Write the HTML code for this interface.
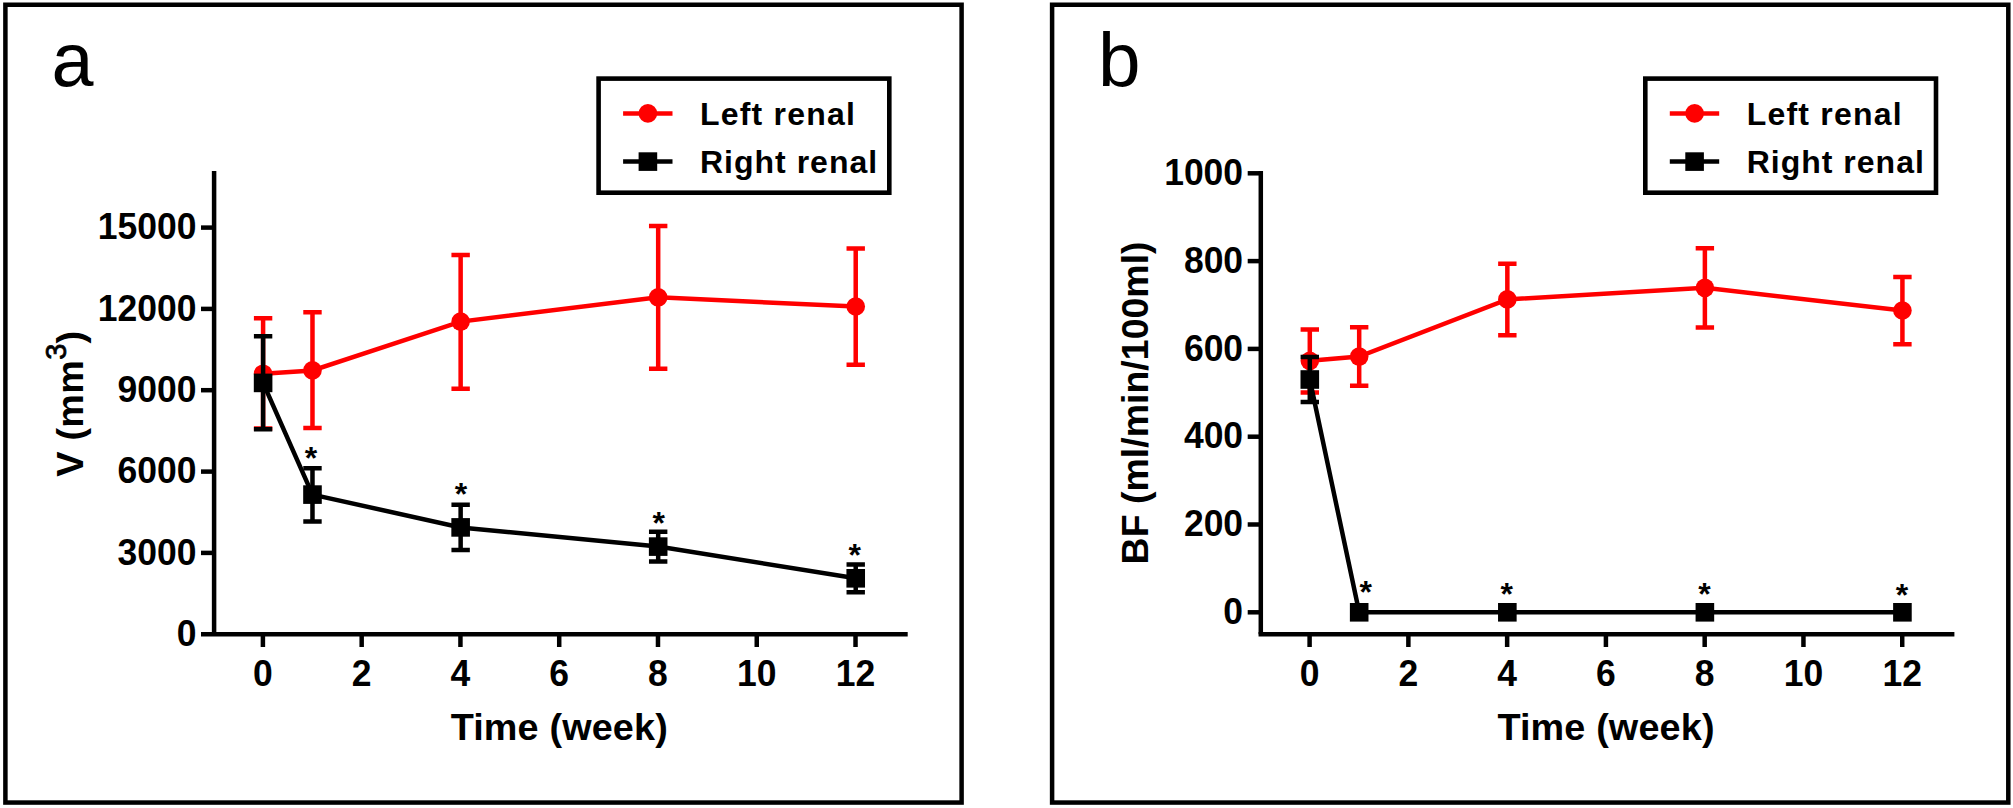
<!DOCTYPE html>
<html lang="en">
<head>
<meta charset="utf-8">
<title>Renal volume and blood flow</title>
<style>
html,body{margin:0;padding:0;background:#fff;}
body{width:2013px;height:808px;overflow:hidden;}
svg{display:block;}
text{font-family:"Liberation Sans", sans-serif;fill:#000;}
.k{stroke:#000;stroke-width:4.5;fill:none;}
.r{stroke:#f00;stroke-width:4.5;fill:none;}
.tl{font-size:35.5px;font-weight:bold;}
.ti{font-size:37.8px;font-weight:bold;}
.lg{font-size:32px;font-weight:bold;letter-spacing:1.2px;}
.pl{font-weight:normal;}
.st{font-size:32px;font-weight:bold;}
</style>
</head>
<body>
<svg width="2013" height="808" viewBox="0 0 2013 808">
<rect x="0" y="0" width="2013" height="808" fill="#fff"/>
<g id="panel-a">
<rect x="5.4" y="4.75" width="956.2" height="797.8" fill="none" stroke="#000" stroke-width="4.5"/>
<path d="M214.1 171V634.3" class="k"/>
<path d="M201 634.3H907.7" class="k"/>
<text transform="translate(196.4 645.8) scale(1 1.04)" class="tl" text-anchor="end">0</text>
<path d="M201 552.9H214.1" class="k"/>
<text transform="translate(196.4 564.5) scale(1 1.04)" class="tl" text-anchor="end">3000</text>
<path d="M201 471.6H214.1" class="k"/>
<text transform="translate(196.4 483.2) scale(1 1.04)" class="tl" text-anchor="end">6000</text>
<path d="M201 390.2H214.1" class="k"/>
<text transform="translate(196.4 401.8) scale(1 1.04)" class="tl" text-anchor="end">9000</text>
<path d="M201 308.9H214.1" class="k"/>
<text transform="translate(196.4 320.5) scale(1 1.04)" class="tl" text-anchor="end">12000</text>
<path d="M201 227.6H214.1" class="k"/>
<text transform="translate(196.4 239.2) scale(1 1.04)" class="tl" text-anchor="end">15000</text>
<path d="M262.9 634.3V647" class="k"/>
<text transform="translate(262.9 686.2) scale(1 1.04)" class="tl" text-anchor="middle">0</text>
<path d="M361.67 634.3V647" class="k"/>
<text transform="translate(361.67 686.2) scale(1 1.04)" class="tl" text-anchor="middle">2</text>
<path d="M460.44 634.3V647" class="k"/>
<text transform="translate(460.44 686.2) scale(1 1.04)" class="tl" text-anchor="middle">4</text>
<path d="M559.21 634.3V647" class="k"/>
<text transform="translate(559.21 686.2) scale(1 1.04)" class="tl" text-anchor="middle">6</text>
<path d="M657.98 634.3V647" class="k"/>
<text transform="translate(657.98 686.2) scale(1 1.04)" class="tl" text-anchor="middle">8</text>
<path d="M756.75 634.3V647" class="k"/>
<text transform="translate(756.75 686.2) scale(1 1.04)" class="tl" text-anchor="middle">10</text>
<path d="M855.52 634.3V647" class="k"/>
<text transform="translate(855.52 686.2) scale(1 1.04)" class="tl" text-anchor="middle">12</text>
<text x="559.3" y="739.5" class="ti" text-anchor="middle" style="letter-spacing:0.14px">Time (week)</text>
<text transform="translate(83 403.7) rotate(-90)" class="ti" text-anchor="middle" style="letter-spacing:0.3px">V (mm<tspan dy="-16.9" style="font-size:29px;font-weight:normal;stroke:#000;stroke-width:0.75px">3</tspan><tspan dy="16.9">)</tspan></text>
<text x="51.6" y="85.6" class="pl" font-size="75.5">a</text>
<path d="M263.1 318.2V428.4M253.9 318.2H272.3M253.9 428.4H272.3" class="r"/>
<path d="M312.48 312.3V428.1M303.28 312.3H321.68M303.28 428.1H321.68" class="r"/>
<path d="M460.64 255.1V388.8M451.44 255.1H469.84M451.44 388.8H469.84" class="r"/>
<path d="M658.18 226V368.7M648.98 226H667.38M648.98 368.7H667.38" class="r"/>
<path d="M855.72 248.6V364.7M846.52 248.6H864.92M846.52 364.7H864.92" class="r"/>
<polyline points="263.1,373.7 312.48,370.4 460.64,321.6 658.18,297.3 855.72,306.5" class="r" fill="none"/>
<circle cx="263.1" cy="373.7" r="9.3" fill="#f00"/>
<circle cx="312.48" cy="370.4" r="9.3" fill="#f00"/>
<circle cx="460.64" cy="321.6" r="9.3" fill="#f00"/>
<circle cx="658.18" cy="297.3" r="9.3" fill="#f00"/>
<circle cx="855.72" cy="306.5" r="9.3" fill="#f00"/>
<path d="M263.1 336.3V429.3M253.9 336.3H272.3M253.9 429.3H272.3" class="k"/>
<path d="M312.48 468.2V521.4M303.28 468.2H321.68M303.28 521.4H321.68" class="k"/>
<path d="M460.64 504.7V549.9M451.44 504.7H469.84M451.44 549.9H469.84" class="k"/>
<path d="M658.18 531.8V561.5M648.98 531.8H667.38M648.98 561.5H667.38" class="k"/>
<path d="M855.72 564.5V592.2M846.52 564.5H864.92M846.52 592.2H864.92" class="k"/>
<polyline points="263.1,382.9 312.48,494.6 460.64,527.4 658.18,546.6 855.72,578.3" class="k" fill="none"/>
<rect x="253.8" y="373.6" width="18.6" height="18.6" fill="#000"/>
<rect x="303.18" y="485.3" width="18.6" height="18.6" fill="#000"/>
<rect x="451.34" y="518.1" width="18.6" height="18.6" fill="#000"/>
<rect x="648.88" y="537.3" width="18.6" height="18.6" fill="#000"/>
<rect x="846.42" y="569" width="18.6" height="18.6" fill="#000"/>
<text x="310.9" y="469" class="st" text-anchor="middle">*</text>
<text x="461" y="505.4" class="st" text-anchor="middle">*</text>
<text x="658.8" y="533.9" class="st" text-anchor="middle">*</text>
<text x="854.75" y="565.6" class="st" text-anchor="middle">*</text>
<rect x="598.6" y="78.6" width="290.7" height="114.1" fill="#fff" stroke="#000" stroke-width="4.6"/>
<path d="M623.1 113.4H672.5" class="r"/><circle cx="647.9" cy="113.4" r="9.3" fill="#f00"/>
<path d="M623.1 161.6H672.5" class="k"/><rect x="638.6" y="152.3" width="18.6" height="18.6" fill="#000"/>
<text x="700" y="124.8" class="lg">Left renal</text>
<text x="700" y="173.0" class="lg" style="letter-spacing:1px">Right renal</text>
</g>
<g id="panel-b">
<rect x="1052.1" y="4.75" width="956.2" height="797.8" fill="none" stroke="#000" stroke-width="4.5"/>
<path d="M1260.8 171V634.3" class="k"/>
<path d="M1258.55 634.3H1954.4" class="k"/>
<path d="M1247.7 612.3H1260.8" class="k"/>
<text transform="translate(1243.1 623.9) scale(1 1.04)" class="tl" text-anchor="end">0</text>
<path d="M1247.7 524.5H1260.8" class="k"/>
<text transform="translate(1243.1 536.1) scale(1 1.04)" class="tl" text-anchor="end">200</text>
<path d="M1247.7 436.7H1260.8" class="k"/>
<text transform="translate(1243.1 448.3) scale(1 1.04)" class="tl" text-anchor="end">400</text>
<path d="M1247.7 348.9H1260.8" class="k"/>
<text transform="translate(1243.1 360.5) scale(1 1.04)" class="tl" text-anchor="end">600</text>
<path d="M1247.7 261.1H1260.8" class="k"/>
<text transform="translate(1243.1 272.7) scale(1 1.04)" class="tl" text-anchor="end">800</text>
<path d="M1247.7 173.3H1260.8" class="k"/>
<text transform="translate(1243.1 184.9) scale(1 1.04)" class="tl" text-anchor="end">1000</text>
<path d="M1309.6 634.3V647" class="k"/>
<text transform="translate(1309.6 686.2) scale(1 1.04)" class="tl" text-anchor="middle">0</text>
<path d="M1408.37 634.3V647" class="k"/>
<text transform="translate(1408.37 686.2) scale(1 1.04)" class="tl" text-anchor="middle">2</text>
<path d="M1507.14 634.3V647" class="k"/>
<text transform="translate(1507.14 686.2) scale(1 1.04)" class="tl" text-anchor="middle">4</text>
<path d="M1605.91 634.3V647" class="k"/>
<text transform="translate(1605.91 686.2) scale(1 1.04)" class="tl" text-anchor="middle">6</text>
<path d="M1704.68 634.3V647" class="k"/>
<text transform="translate(1704.68 686.2) scale(1 1.04)" class="tl" text-anchor="middle">8</text>
<path d="M1803.45 634.3V647" class="k"/>
<text transform="translate(1803.45 686.2) scale(1 1.04)" class="tl" text-anchor="middle">10</text>
<path d="M1902.22 634.3V647" class="k"/>
<text transform="translate(1902.22 686.2) scale(1 1.04)" class="tl" text-anchor="middle">12</text>
<text x="1606" y="739.5" class="ti" text-anchor="middle" style="letter-spacing:0.14px">Time (week)</text>
<text transform="translate(1148.1 402.9) rotate(-90)" class="ti" text-anchor="middle" style="font-size:37.5px">BF (ml/min/100ml)</text>
<text x="1098" y="86.3" class="pl" font-size="76.5">b</text>
<path d="M1309.8 329.6V392.5M1300.6 329.6H1319M1300.6 392.5H1319" class="r"/>
<path d="M1359.18 327.3V385.8M1349.98 327.3H1368.38M1349.98 385.8H1368.38" class="r"/>
<path d="M1507.34 263.7V335.2M1498.14 263.7H1516.54M1498.14 335.2H1516.54" class="r"/>
<path d="M1704.88 248.2V327.5M1695.68 248.2H1714.08M1695.68 327.5H1714.08" class="r"/>
<path d="M1902.42 277.1V344.3M1893.22 277.1H1911.62M1893.22 344.3H1911.62" class="r"/>
<polyline points="1309.8,360.8 1359.18,356.6 1507.34,299.4 1704.88,287.8 1902.42,310.5" class="r" fill="none"/>
<circle cx="1309.8" cy="360.8" r="9.3" fill="#f00"/>
<circle cx="1359.18" cy="356.6" r="9.3" fill="#f00"/>
<circle cx="1507.34" cy="299.4" r="9.3" fill="#f00"/>
<circle cx="1704.88" cy="287.8" r="9.3" fill="#f00"/>
<circle cx="1902.42" cy="310.5" r="9.3" fill="#f00"/>
<path d="M1309.8 357V402.1M1300.6 357H1319M1300.6 402.1H1319" class="k"/>
<polyline points="1309.8,379.5 1359.18,612.3 1507.34,612.3 1704.88,612.3 1902.42,612.3" class="k" fill="none"/>
<rect x="1300.5" y="370.2" width="18.6" height="18.6" fill="#000"/>
<rect x="1349.88" y="603" width="18.6" height="18.6" fill="#000"/>
<rect x="1498.04" y="603" width="18.6" height="18.6" fill="#000"/>
<rect x="1695.58" y="603" width="18.6" height="18.6" fill="#000"/>
<rect x="1893.12" y="603" width="18.6" height="18.6" fill="#000"/>
<text x="1365.8" y="602.7" class="st" text-anchor="middle">*</text>
<text x="1506.8" y="605.1" class="st" text-anchor="middle">*</text>
<text x="1704.5" y="605.4" class="st" text-anchor="middle">*</text>
<text x="1901.9" y="606.1" class="st" text-anchor="middle">*</text>
<rect x="1645.3" y="78.6" width="290.7" height="114.1" fill="#fff" stroke="#000" stroke-width="4.6"/>
<path d="M1669.8 113.4H1719.2" class="r"/><circle cx="1694.6" cy="113.4" r="9.3" fill="#f00"/>
<path d="M1669.8 161.6H1719.2" class="k"/><rect x="1685.3" y="152.3" width="18.6" height="18.6" fill="#000"/>
<text x="1746.7" y="124.8" class="lg">Left renal</text>
<text x="1746.7" y="173.0" class="lg" style="letter-spacing:1px">Right renal</text>
</g>
</svg>
</body>
</html>
